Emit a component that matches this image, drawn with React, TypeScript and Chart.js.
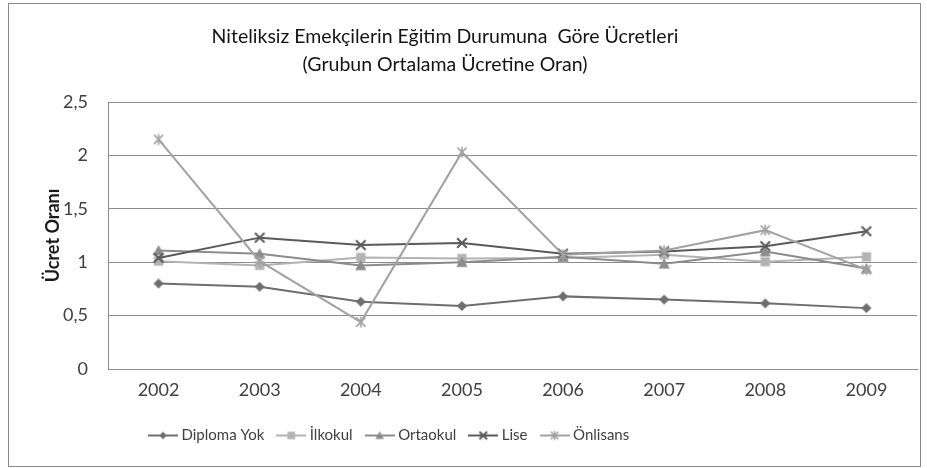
import React, { useEffect, useRef } from 'react';
import { Chart, registerables } from 'chart.js';

Chart.register(...registerables);

const years = ['2002', '2003', '2004', '2005', '2006', '2007', '2008', '2009'];
const diplomaYok = [0.8, 0.77, 0.63, 0.59, 0.68, 0.65, 0.615, 0.57];
const ilkokul = [1.01, 0.97, 1.045, 1.035, 1.04, 1.07, 1.005, 1.05];
const ortaokul = [1.11, 1.08, 0.97, 1.0, 1.05, 0.985, 1.1, 0.94];
const lise = [1.04, 1.23, 1.16, 1.18, 1.08, 1.1, 1.15, 1.29];
const onlisans = [2.15, 1.01, 0.44, 2.03, 1.07, 1.11, 1.3, 0.93];
const seriesNames = ['Diploma Yok', 'İlkokul', 'Ortaokul', 'Lise', 'Önlisans'];
const titleLines = ['Niteliksiz Emekçilerin Eğitim Durumuna  Göre Ücretleri', '(Grubun Ortalama Ücretine Oran)'];
const yAxisTitle = 'Ücret Oranı';

type Kind = 'diamond' | 'square' | 'triangle' | 'x' | 'star';

function drawShape(ctx: CanvasRenderingContext2D, kind: Kind, cx: number, cy: number, r: number, color: string) {
  ctx.fillStyle = color;
  ctx.strokeStyle = color;
  ctx.beginPath();
  if (kind === 'diamond') {
    ctx.moveTo(cx, cy - r);
    ctx.lineTo(cx + r, cy);
    ctx.lineTo(cx, cy + r);
    ctx.lineTo(cx - r, cy);
    ctx.closePath();
    ctx.fill();
  } else if (kind === 'square') {
    ctx.rect(cx - r, cy - r, 2 * r, 2 * r);
    ctx.fill();
  } else if (kind === 'triangle') {
    ctx.moveTo(cx, cy - r);
    ctx.lineTo(cx + r, cy + r * 0.85);
    ctx.lineTo(cx - r, cy + r * 0.85);
    ctx.closePath();
    ctx.fill();
  } else if (kind === 'x') {
    ctx.lineWidth = 2;
    ctx.moveTo(cx - r, cy - r);
    ctx.lineTo(cx + r, cy + r);
    ctx.moveTo(cx + r, cy - r);
    ctx.lineTo(cx - r, cy + r);
    ctx.stroke();
  } else {
    ctx.lineWidth = 1.6;
    ctx.moveTo(cx - r, cy - r);
    ctx.lineTo(cx + r, cy + r);
    ctx.moveTo(cx + r, cy - r);
    ctx.lineTo(cx - r, cy + r);
    ctx.moveTo(cx, cy - r * 1.2);
    ctx.lineTo(cx, cy + r * 1.2);
    ctx.stroke();
  }
}

function makeMarker(kind: Kind, color: string, r: number) {
  const c = document.createElement('canvas');
  const s = Math.ceil(r * 2 + 4);
  c.width = s;
  c.height = s;
  const ctx = c.getContext('2d')!;
  drawShape(ctx, kind, s / 2, s / 2, r, color);
  return c;
}

function makeLegendIcon(kind: Kind, color: string, r: number) {
  const c = document.createElement('canvas');
  c.width = 30;
  c.height = 14;
  const ctx = c.getContext('2d')!;
  ctx.strokeStyle = color;
  ctx.lineWidth = 2;
  ctx.beginPath();
  ctx.moveTo(0, 7);
  ctx.lineTo(30, 7);
  ctx.stroke();
  drawShape(ctx, kind, 15, 7, r, color);
  return c;
}

export default function App() {
  const ref = useRef<HTMLCanvasElement | null>(null);

  useEffect(() => {
    document.body.style.margin = '0';
    if (!ref.current) return;
    const kinds: Kind[] = ['diamond', 'square', 'triangle', 'x', 'star'];
    const colors = ['#6e6e6e', '#b3b3b3', '#8c8c8c', '#5a5a5a', '#a2a2a2'];
    const markerR = [5, 4.6, 5.6, 4.8, 4.6];
    const legendR = [3.8, 3.8, 4.2, 3.8, 3.8];
    const values = [diplomaYok, ilkokul, ortaokul, lise, onlisans];
    const legendIcons = kinds.map((k, i) => makeLegendIcon(k, colors[i], legendR[i]));

    const datasets = values.map((v, i) => ({
      label: seriesNames[i],
      data: v,
      borderColor: colors[i],
      backgroundColor: colors[i],
      borderWidth: 2,
      pointStyle: makeMarker(kinds[i], colors[i], markerR[i]) as any,
      pointRadius: 5,
      tension: 0,
      order: 5 - i,
    }));

    const framePlugin = {
      id: 'frame',
      beforeDraw(chart: any) {
        const ctx = chart.ctx;
        ctx.save();
        ctx.fillStyle = '#ffffff';
        ctx.fillRect(0, 0, chart.width, chart.height);
        ctx.strokeStyle = '#8a8a8a';
        ctx.lineWidth = 1;
        ctx.strokeRect(8.5, 3.5, 912, 463);
        ctx.restore();
        if (chart.legend) {
          chart.legend.left = 136;
        }
        if (chart.titleBlock) {
          chart.titleBlock.left = -10;
          chart.titleBlock.right = 900;
        }
      },
    };

    const chart = new Chart(ref.current, {
      type: 'line',
      data: { labels: years, datasets },
      plugins: [framePlugin],
      options: {
        animation: false,
        responsive: false,
        devicePixelRatio: 1,
        layout: { padding: { left: 8, right: 10, top: 0, bottom: 15 } },
        plugins: {
          title: {
            display: true,
            text: titleLines,
            color: '#141414',
            font: { family: 'Lato', size: 19.5, weight: 'normal', lineHeight: 28 / 19.5 },
            padding: { top: 23, bottom: 23 },
          },
          legend: {
            display: true,
            position: 'bottom',
            align: 'start',
            labels: {
              usePointStyle: true,
              pointStyleWidth: 22,
              padding: 16,
              color: '#404040',
              font: { family: 'Lato', size: 15 },
              sort: (a: any, b: any) => a.datasetIndex - b.datasetIndex,
              generateLabels: (c: any) => {
                const items = Chart.defaults.plugins.legend.labels.generateLabels(c);
                items.forEach((it: any) => {
                  it.pointStyle = legendIcons[it.datasetIndex];
                });
                return items;
              },
            },
          },
          tooltip: { enabled: false },
        },
        scales: {
          x: {
            offset: true,
            grid: { display: false, drawTicks: false },
            border: { display: true, color: '#8c8c8c', width: 1 },
            ticks: { color: '#404040', font: { family: 'Lato', size: 18 }, padding: 10, maxRotation: 0 },
            afterFit: (s: any) => {
              s.height = 43;
            },
          },
          y: {
            min: 0,
            max: 2.5,
            grid: { color: '#8c8c8c', lineWidth: 1, drawTicks: false },
            border: { display: true, color: '#8c8c8c', width: 1 },
            ticks: {
              stepSize: 0.5,
              color: '#404040',
              font: { family: 'Lato', size: 18 },
              padding: 20,
              callback: (v: any) => String(v).replace('.', ','),
            },
            title: {
              display: true,
              text: yAxisTitle,
              color: '#1a1a1a',
              font: { family: 'Lato', size: 18, weight: 'bold' },
              padding: { top: 34, bottom: 0 },
            },
            afterFit: (s: any) => {
              s.width = 100;
            },
          },
        },
      },
    } as any);
    return () => chart.destroy();
  }, []);

  return (
    <div style={{ width: 927, height: 468 }}>
      <canvas ref={ref} width={927} height={468} style={{ display: 'block' }} />
    </div>
  );
}
